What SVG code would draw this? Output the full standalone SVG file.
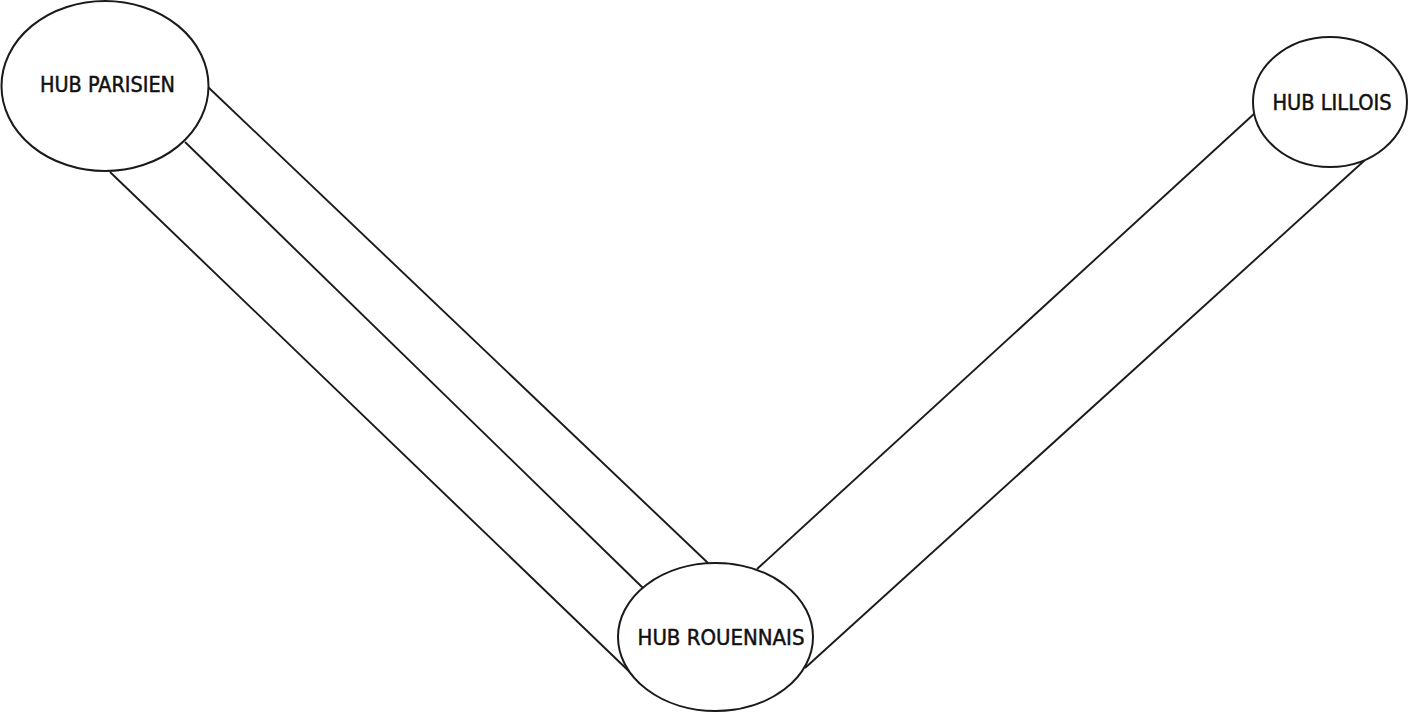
<svg xmlns="http://www.w3.org/2000/svg" width="1410" height="714" viewBox="0 0 1410 714">
<style>
.node{fill:#fff;stroke:#1a1a1a;stroke-width:2}
.edge{fill:none;stroke:#1a1a1a;stroke-width:1.9}
.lbl{font-family:"DejaVu Sans Condensed","Liberation Sans",Arial,sans-serif;font-stretch:condensed;font-size:20.5px;fill:#111;stroke:#111;stroke-width:0.45;text-anchor:middle}
</style>
<rect width="1410" height="714" fill="#fff"/>
<g id="connectors">
<line class="edge" x1="208" y1="87" x2="708" y2="563"/>
<line class="edge" x1="185" y1="142" x2="643" y2="588"/>
<line class="edge" x1="110" y1="172" x2="636" y2="678"/>
<line class="edge" x1="1255" y1="113" x2="757" y2="569"/>
<line class="edge" x1="1365" y1="160" x2="805" y2="668"/>
</g>
<g id="hub-parisien">
<ellipse class="node" cx="105" cy="86" rx="103.5" ry="85"/>
<text class="lbl" x="107.5" y="92" textLength="135" lengthAdjust="spacingAndGlyphs">HUB PARISIEN</text>
</g>
<g id="hub-lillois">
<ellipse class="node" cx="1330" cy="102" rx="77" ry="65"/>
<text class="lbl" x="1332" y="110" textLength="119" lengthAdjust="spacingAndGlyphs">HUB LILLOIS</text>
</g>
<g id="hub-rouennais">
<ellipse class="node" cx="715.5" cy="637" rx="97.5" ry="74"/>
<text class="lbl" x="721" y="645" textLength="167" lengthAdjust="spacingAndGlyphs">HUB ROUENNAIS</text>
</g>
</svg>
